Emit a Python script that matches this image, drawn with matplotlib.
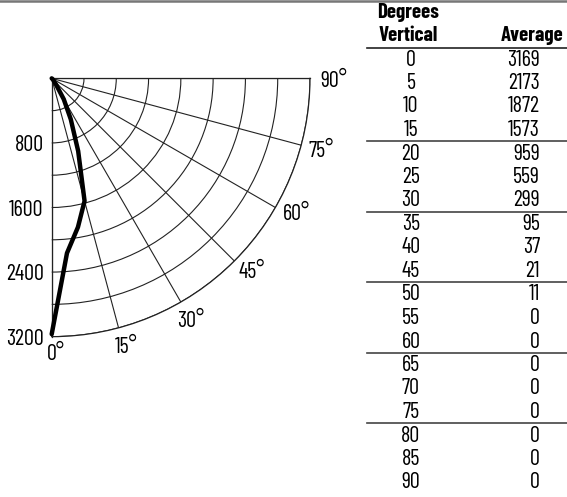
import numpy as np
import matplotlib.pyplot as plt
from matplotlib.lines import Line2D
from matplotlib.transforms import offset_copy

# candela distribution (degrees vertical vs average)
angles = [0, 5, 10, 15, 20, 25, 30, 35, 40, 45, 50, 55, 60, 65, 70, 75, 80, 85, 90]
average = [3169, 2173, 1872, 1573, 959, 559, 299, 95, 37, 21, 11, 0, 0, 0, 0, 0, 0, 0, 0]
ring_values = [400, 800, 1200, 1600, 2000, 2400, 2800, 3200]
ring_labels = ['800', '1600', '2400', '3200']
angle_ticks = [0, 15, 30, 45, 60, 75, 90]

plt.rcParams['font.family'] = ['Barlow Condensed', 'Roboto Condensed', 'DejaVu Sans']
W, H = 567, 497
fig = plt.figure(figsize=(W / 100, H / 100), dpi=100)

# top border
fig.add_artist(Line2D([0, 1], [1 - 1.2 / H, 1 - 1.2 / H], color='#777777', lw=1.8,
                      transform=fig.transFigure))

ax = fig.add_axes([51.7 / W, 1 - 336.7 / H, 258.3 / W, 258.4 / H], projection='polar')
ax.set_theta_zero_location('S')
ax.set_theta_direction(1)
ax.set_thetamin(0)
ax.set_thetamax(90)
ax.set_rlim(0, 3200)
ax.set_rgrids(ring_values, labels=[''] * len(ring_values))
ax.set_thetagrids(angle_ticks, labels=[''] * len(angle_ticks))
ax.grid(True, color='#222222', lw=0.8)
for s in ax.spines.values():
    s.set_color('#222222')
    s.set_linewidth(0.9)
ax.tick_params(length=0)

ax.plot(np.deg2rad(angles), average, color='black', lw=3.2, clip_on=False,
        solid_capstyle='round', solid_joinstyle='round', zorder=5)

fs = 16
# radial labels on the 0 degree line
tr = offset_copy(ax.transData, fig=fig, x=-8, y=0, units='dots')
for lab in ring_labels:
    ax.text(0, float(lab), lab, transform=tr, ha='right', va='center_baseline', fontsize=fs)

# angle labels near the outer arc (offsets from line end, pixels, down positive)
offsets = [(-4.7, 23.3), (-3.5, 25.5), (-3.7, 25.3), (4, 17.3), (7, 12.7), (7, 11.9), (10, 8.7)]
for a, (dx, dy) in zip(angle_ticks, offsets):
    t = offset_copy(ax.transData, fig=fig, x=dx, y=-dy, units='dots')
    ax.text(np.deg2rad(a), 3200, f'{a}°', transform=t, ha='left', va='baseline', fontsize=fs)

# table on the right
def fy(p):
    return 1 - p / H

fig.text(408 / W, fy(18.5), 'Degrees', ha='center', va='baseline', fontsize=15,
         fontweight='bold')
fig.text(408 / W, fy(41), 'Vertical', ha='center', va='baseline', fontsize=15,
         fontweight='bold')
fig.text(564 / W, fy(41), 'Average', ha='right', va='baseline', fontsize=15, fontweight='bold')
fig.add_artist(Line2D([367 / W, 1], [fy(48), fy(48)], color='#222222', lw=1.2,
                      transform=fig.transFigure))
pitch = (481.5 - 58.5) / 18
for i, (a, v) in enumerate(zip(angles, average)):
    y = 65.5 + i * pitch
    fig.text(411 / W, fy(y), str(a), ha='center', va='baseline', fontsize=fs)
    fig.text(540 / W, fy(y), str(v), ha='right', va='baseline', fontsize=fs)
    if i in (3, 6, 9, 12, 15):
        ys = y - 6.5 + pitch / 2
        fig.add_artist(Line2D([367 / W, 1], [fy(ys), fy(ys)], color='#444444', lw=1.2,
                              transform=fig.transFigure))

fig.savefig('out.png', dpi=100)
